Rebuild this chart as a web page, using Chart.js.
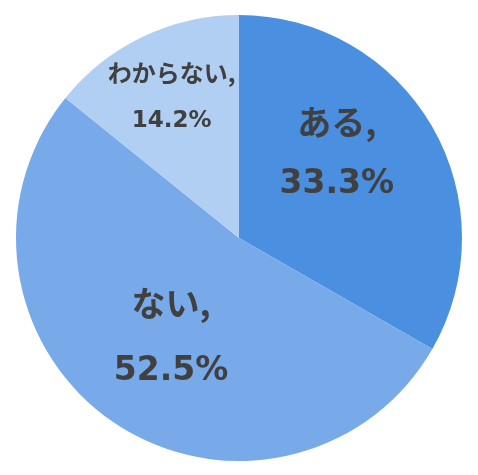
<!DOCTYPE html>
<html>
<head>
<meta charset="utf-8">
<script src="https://cdn.jsdelivr.net/npm/chart.js@4"></script>
<style>
  html, body { margin: 0; padding: 0; background: #fff; }
</style>
</head>
<body>
<canvas id="pieChart" width="478" height="475"></canvas>
<script>
// データ
const categories = ['ある', 'ない', 'わからない'];
const percents = [33.3, 52.5, 14.2];
const sliceColors = ['#4a8fe0', '#78aaea', '#b1cff3'];

// ラベル位置 (半径比, 角度比) と文字サイズ
const labelRadius = [0.58, 0.54, 0.70];
const labelAngleFrac = [0.41, 0.5, 0.5];
const nameFont = [34, 34, 24];
const numFont = [33, 33, 23];
const labelGap = [62, 68, 48];

const pieLabels = {
    id: 'pieLabels',
    afterDatasetsDraw(chart) {
        const ctx = chart.ctx;
        const meta = chart.getDatasetMeta(0);
        meta.data.forEach((arc, i) => {
            const a = arc.startAngle + (arc.endAngle - arc.startAngle) * labelAngleFrac[i];
            const r = arc.outerRadius * labelRadius[i];
            const x = arc.x + Math.cos(a) * r;
            const y = arc.y + Math.sin(a) * r;
            ctx.save();
            ctx.fillStyle = '#404040';
            ctx.textAlign = 'center';
            ctx.textBaseline = 'middle';
            ctx.font = 'bold ' + nameFont[i] + 'px "Noto Sans CJK JP", sans-serif';
            ctx.fillText(categories[i] + ',', x, y - labelGap[i] / 2);
            ctx.font = 'bold ' + numFont[i] + 'px "DejaVu Sans", sans-serif';
            ctx.fillText(percents[i].toFixed(1) + '%', x, y + labelGap[i] / 2);
            ctx.restore();
        });
    }
};

new Chart(document.getElementById('pieChart').getContext('2d'), {
    type: 'pie',
    data: {
        labels: categories,
        datasets: [{
            data: percents,
            backgroundColor: sliceColors,
            borderWidth: 0
        }]
    },
    options: {
        responsive: false,
        animation: false,
        layout: { padding: { top: 15, bottom: 14, left: 0, right: 0 } },
        plugins: {
            legend: { display: false },
            tooltip: { enabled: false }
        }
    },
    plugins: [pieLabels]
});
</script>
</body>
</html>
